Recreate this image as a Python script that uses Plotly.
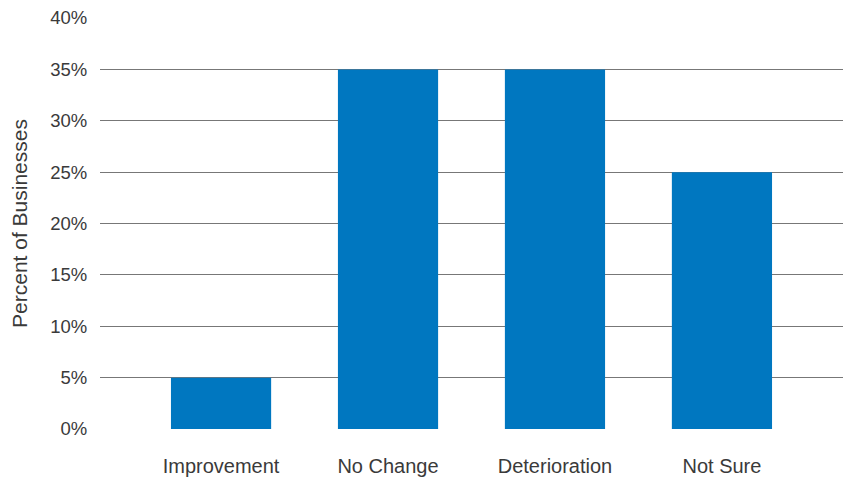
import plotly.graph_objects as go

categories = ["Improvement", "No Change", "Deterioration", "Not Sure"]
values = [5, 35, 35, 25]
y_ticks = [0, 5, 10, 15, 20, 25, 30, 35, 40]
y_tick_labels = [f"{v}%" for v in y_ticks]

FONT = "Liberation Sans, Arial, Helvetica, sans-serif"

fig = go.Figure()
fig.add_trace(go.Bar(
    x=categories, y=values,
    marker=dict(color="#0077C0", line=dict(width=0)),
    width=0.6,
))

fig.update_layout(
    width=843, height=477,
    margin=dict(l=100, r=0, t=18, b=45),
    paper_bgcolor="white", plot_bgcolor="white",
    font=dict(family=FONT, size=18, color="#3a3a3a"),
    showlegend=False,
)
fig.update_xaxes(
    range=[-0.725, 3.725],
    showgrid=False, zeroline=False, showline=False,
    ticks="outside", ticklen=19, tickcolor="rgba(0,0,0,0)",
    tickfont=dict(size=20),
)
fig.update_yaxes(
    range=[0, 40],
    tickvals=y_ticks, ticktext=y_tick_labels,
    showgrid=True, gridcolor="#777777", gridwidth=1,
    zeroline=False, showline=False,
    ticks="outside", ticklen=8, tickcolor="rgba(0,0,0,0)",
    tickfont=dict(size=18.5),
    title=dict(text="Percent of Businesses", font=dict(size=21), standoff=16),
    automargin=False,
)

fig.write_html("out.html")
